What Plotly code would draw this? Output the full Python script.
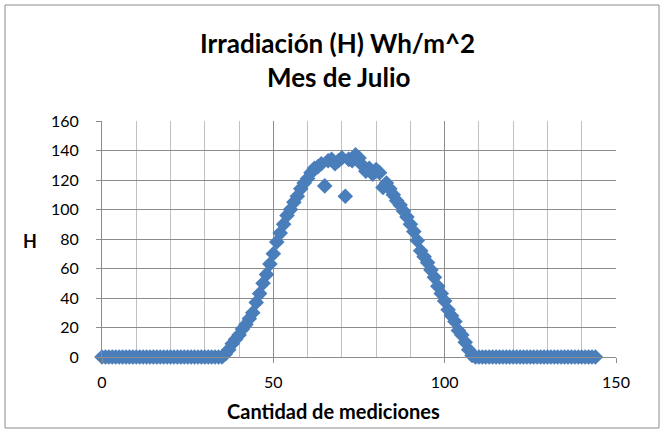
import plotly.graph_objects as go

# Measurement index (0..144) and irradiance values H (Wh/m^2), July
mediciones = list(range(0, 145))
zeros_morning = [0] * 36  # x = 0..35
curve = [
    2, 5, 9, 12, 15, 19, 22, 26, 30, 37,          # 36-45
    43, 50, 56, 63, 70, 78, 84, 90, 96, 100,      # 46-55
    105, 109, 114, 118, 121, 125, 128, 129, 131, 116,  # 56-65
    133, 134, 131, 133, 135, 109, 134, 133, 137, 135,  # 66-75
    130, 126, 128, 124, 127, 125, 115, 118, 114, 110,  # 76-85
    106, 103, 99, 95, 90, 85, 79, 72, 68, 64,          # 86-95
    59, 54, 48, 43, 38, 32, 28, 24, 18, 15,            # 96-105
    10, 5, 1,                                          # 106-108
]
zeros_evening = [0] * (145 - 36 - len(curve))
irradiacion = zeros_morning + curve + zeros_evening

title_line1 = "Irradiación (H) Wh/m^2"
title_line2 = "Mes de Julio"
x_title = "Cantidad de mediciones"
y_title = "H"

FONT = "Lato"
L, R, T, B = 102, 48, 121, 75
W, H = 664, 432
pw, ph = W - L - R, H - T - B

def px(xpix):
    return (xpix - L) / pw

def py(ypix):
    return (H - B - ypix) / ph

fig = go.Figure()
fig.add_trace(go.Scatter(
    x=mediciones, y=irradiacion, mode="markers",
    marker=dict(symbol="diamond", size=12, color="#4A7EBB",
                line=dict(width=0)),
    showlegend=False, cliponaxis=False,
))

fig.update_layout(
    width=W, height=H,
    margin=dict(l=L, r=R, t=T, b=B),
    paper_bgcolor="white", plot_bgcolor="white",
    font=dict(family=FONT, color="#000000", size=16),
    xaxis=dict(
        range=[0, 150], dtick=50, tick0=0,
        showgrid=True, gridcolor="#8c8c8c", gridwidth=1,
        minor=dict(dtick=10, showgrid=True, gridcolor="#c0c0c0", gridwidth=1),
        showline=True, linecolor="#8c8c8c", linewidth=1,
        ticks="outside", ticklen=5, tickcolor="#8c8c8c",
        zeroline=False, tickfont=dict(size=16, family=FONT),
        ticklabelstandoff=6,
    ),
    yaxis=dict(
        range=[0, 160], dtick=20, tick0=0,
        showgrid=True, gridcolor="#8c8c8c", gridwidth=1,
        showline=True, linecolor="#8c8c8c", linewidth=1,
        ticks="outside", ticklen=5, tickcolor="#8c8c8c",
        zeroline=False, tickfont=dict(size=16, family=FONT),
        ticklabelstandoff=14,
    ),
    shapes=[dict(
        type="rect", xref="paper", yref="paper",
        x0=px(5), x1=px(659), y0=py(428), y1=py(5),
        line=dict(color="#8c8c8c", width=1), fillcolor="rgba(0,0,0,0)",
        layer="below",
    )],
    annotations=[
        dict(text="<b>%s</b>" % title_line1, x=px(337), y=py(43),
             xref="paper", yref="paper", showarrow=False,
             font=dict(size=26, family=FONT), xanchor="center", yanchor="middle"),
        dict(text="<b>%s</b>" % title_line2, x=px(339), y=py(77),
             xref="paper", yref="paper", showarrow=False,
             font=dict(size=26, family=FONT), xanchor="center", yanchor="middle"),
        dict(text="<b>%s</b>" % x_title, x=px(333), y=py(411),
             xref="paper", yref="paper", showarrow=False,
             font=dict(size=20, family=FONT), xanchor="center", yanchor="middle"),
        dict(text="<b>%s</b>" % y_title, x=px(30), y=py(241),
             xref="paper", yref="paper", showarrow=False,
             font=dict(size=18, family=FONT), xanchor="center", yanchor="middle"),
    ],
)

fig.write_html("out.html", config={"displayModeBar": False},
               post_script="document.body.style.margin='0';")
